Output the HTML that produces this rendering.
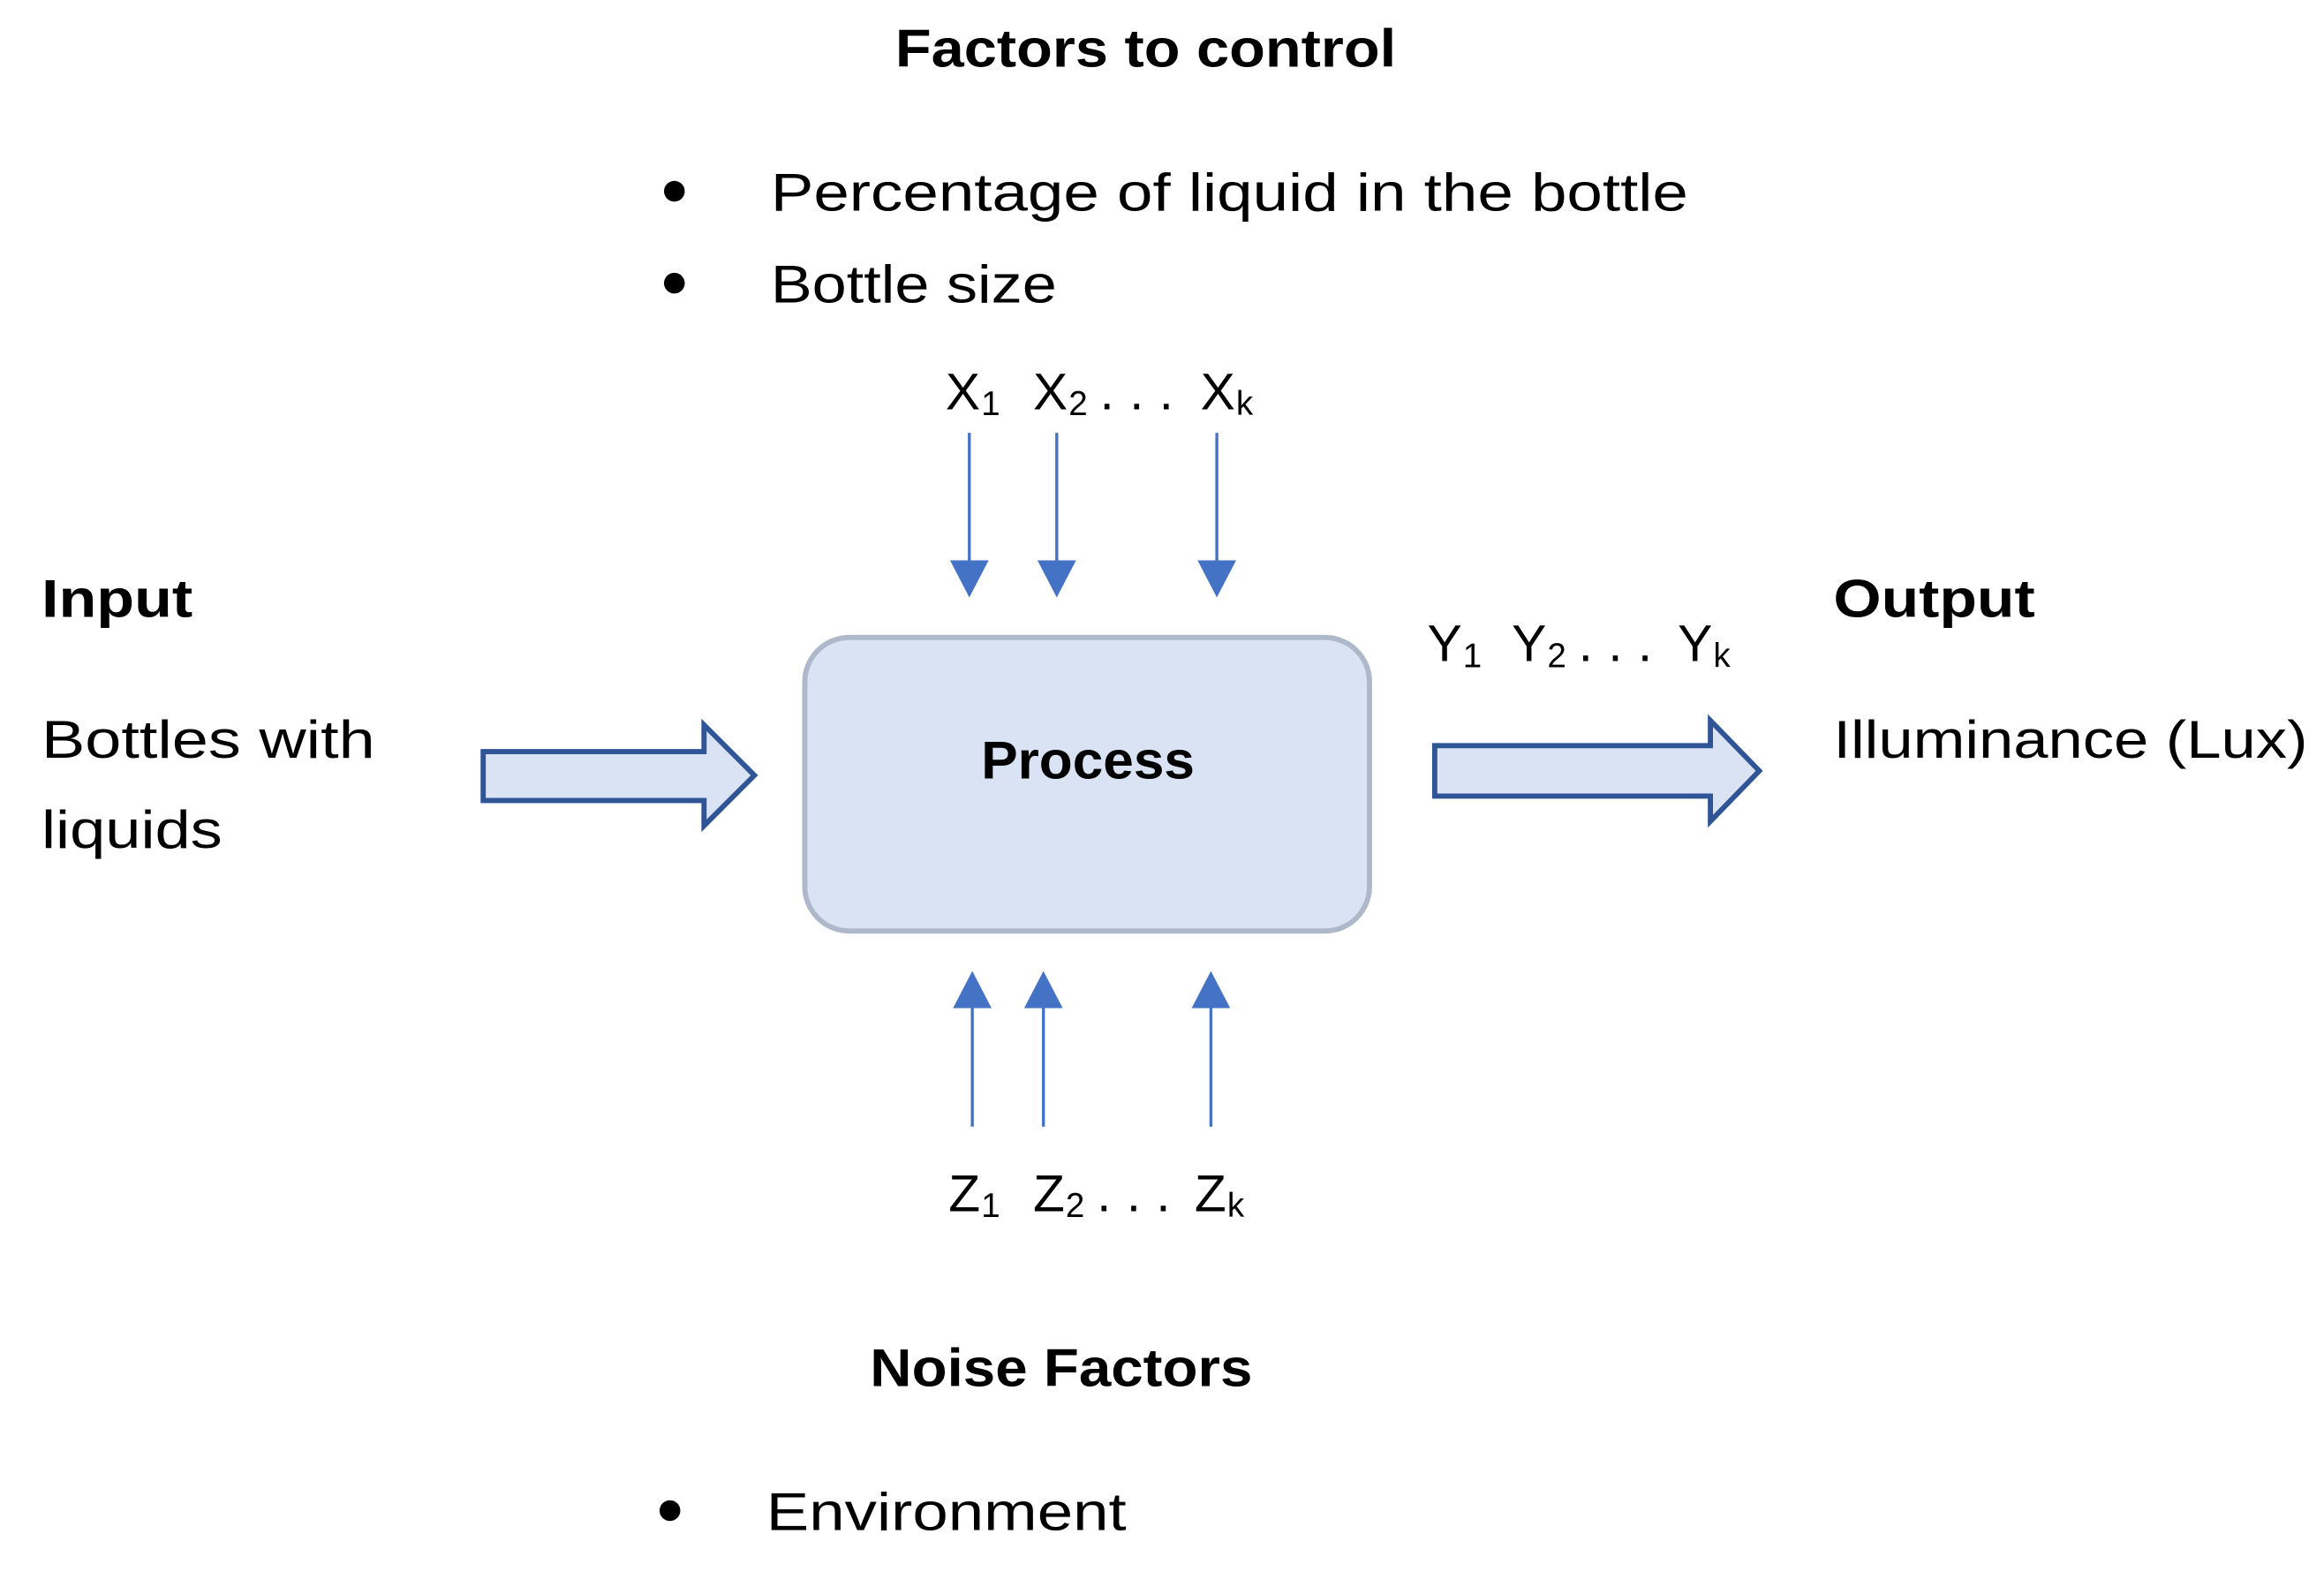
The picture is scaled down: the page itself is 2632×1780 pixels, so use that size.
<!DOCTYPE html>
<html><head><meta charset="utf-8"><style>html,body{margin:0;padding:0;background:#fff}svg{display:block}</style></head>
<body>
<svg width="2632" height="1780" viewBox="0 0 1568 1060.4" xmlns="http://www.w3.org/2000/svg" font-family="'Liberation Sans', sans-serif" fill="#000">
<g font-size="36">
<text x="604" y="45" font-weight="bold" textLength="338" lengthAdjust="spacingAndGlyphs">Factors to control</text>
<circle cx="455" cy="129" r="7"/>
<text x="520" y="142" textLength="619" lengthAdjust="spacingAndGlyphs">Percentage of liquid in the bottle</text>
<circle cx="455" cy="191" r="7"/>
<text x="520" y="204" textLength="193" lengthAdjust="spacingAndGlyphs">Bottle size</text>
<text x="28" y="416" font-weight="bold" textLength="102" lengthAdjust="spacingAndGlyphs">Input</text>
<text x="28" y="511" textLength="225" lengthAdjust="spacingAndGlyphs">Bottles with</text>
<text x="28" y="572" textLength="122" lengthAdjust="spacingAndGlyphs">liquids</text>
<text x="1237" y="416" font-weight="bold" textLength="136" lengthAdjust="spacingAndGlyphs">Output</text>
<text x="1237" y="511" textLength="320" lengthAdjust="spacingAndGlyphs">Illuminance (Lux)</text>
<text x="587" y="935" font-weight="bold" textLength="258" lengthAdjust="spacingAndGlyphs">Noise Factors</text>
<circle cx="452" cy="1019" r="7"/>
<text x="517" y="1032" textLength="243" lengthAdjust="spacingAndGlyphs">Environment</text>
</g>
<g font-size="35">
<text x="638" y="276">X</text><text x="662" y="280" font-size="23">1</text>
<text x="697" y="276">X</text><text x="721" y="280" font-size="23">2</text>
<text x="742" y="276">.</text><text x="762" y="276">.</text><text x="782" y="276">.</text>
<text x="810" y="276">X</text><text x="834" y="280" font-size="23">k</text>

<text x="963" y="446">Y</text><text x="987" y="450" font-size="23">1</text>
<text x="1020" y="446">Y</text><text x="1044" y="450" font-size="23">2</text>
<text x="1065" y="446">.</text><text x="1085" y="446">.</text><text x="1105" y="446">.</text>
<text x="1132" y="446">Y</text><text x="1156" y="450" font-size="23">k</text>

<text x="640" y="817">Z</text><text x="662" y="821" font-size="23">1</text>
<text x="697" y="817">Z</text><text x="719" y="821" font-size="23">2</text>
<text x="740" y="817">.</text><text x="760" y="817">.</text><text x="780" y="817">.</text>
<text x="806" y="817">Z</text><text x="828" y="821" font-size="23">k</text>
</g>
<rect x="543" y="430" width="381" height="198" rx="30" fill="#dae3f3" stroke="#adb9ca" stroke-width="3.5"/>
<text x="734" y="525" font-size="36" font-weight="bold" text-anchor="middle" textLength="144" lengthAdjust="spacingAndGlyphs">Process</text>
<g stroke="#4472c4" stroke-width="2">
<line x1="654" y1="292" x2="654" y2="380"/>
<line x1="713" y1="292" x2="713" y2="380"/>
<line x1="821" y1="292" x2="821" y2="380"/>
<line x1="656" y1="760" x2="656" y2="680"/>
<line x1="704" y1="760" x2="704" y2="680"/>
<line x1="817" y1="760" x2="817" y2="680"/>
</g>
<g fill="#4472c4">
<polygon points="641,378 667,378 654,403"/>
<polygon points="700,378 726,378 713,403"/>
<polygon points="808,378 834,378 821,403"/>
<polygon points="643,680 669,680 656,655"/>
<polygon points="691,680 717,680 704,655"/>
<polygon points="804,680 830,680 817,655"/>
</g>
<g fill="#dae3f3" stroke="#2f5597" stroke-width="3.5" stroke-linejoin="miter">
<polygon points="326,507 475,507 475,489 509,523 475,557 475,540 326,540"/>
<polygon points="968,503 1154,503 1154,486 1187,520 1154,554 1154,537 968,537"/>
</g>
</svg>
</body></html>
